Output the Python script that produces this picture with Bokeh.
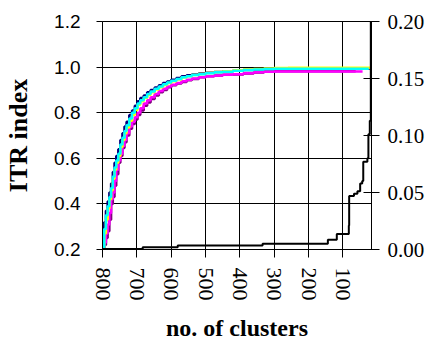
from bokeh.plotting import figure
from bokeh.models import Range1d, LinearAxis, FixedTicker, PrintfTickFormatter
from bokeh.embed import file_html
from bokeh.resources import INLINE

# ---- data ----
clusters = [800, 795, 790, 785, 780, 775, 770, 765, 760, 754, 748, 742, 736, 730,
            722, 714, 706, 698, 690, 680, 670, 660, 648, 636, 624, 612, 600, 585,
            570, 555, 540, 520, 500, 475, 450, 420, 390, 360, 330, 300, 260, 220,
            180, 140, 100, 63, 43, 25, 17]

itr_navy = [0.20, 0.32, 0.37, 0.41, 0.45, 0.49, 0.54, 0.58, 0.61, 0.64, 0.68, 0.71,
            0.74, 0.76, 0.79, 0.81, 0.83, 0.85, 0.865, 0.875, 0.89, 0.90, 0.91, 0.92,
            0.93, 0.937, 0.945, 0.952, 0.96, 0.964, 0.968, 0.972, 0.975, 0.979, 0.982,
            0.985, 0.987, 0.989, 0.991, 0.993, 0.994, 0.994, 0.994, 0.994, 0.994,
            0.994, 0.994, 0.994, 0.994]
itr_cyan = [0.20, 0.29, 0.35, 0.39, 0.43, 0.47, 0.52, 0.56, 0.59, 0.62, 0.66, 0.69,
            0.72, 0.745, 0.775, 0.80, 0.82, 0.84, 0.855, 0.868, 0.882, 0.893, 0.905,
            0.915, 0.925, 0.932, 0.94, 0.948, 0.955, 0.96, 0.965, 0.969, 0.973, 0.977,
            0.98, 0.984, 0.987, 0.99, 0.992, 0.993, 0.993, 0.993, 0.993, 0.993, 0.993,
            0.993, 0.993, 0.993]
itr_yellow = [0.20, 0.27, 0.33, 0.38, 0.42, 0.46, 0.51, 0.55, 0.58, 0.61, 0.65, 0.68,
              0.71, 0.735, 0.765, 0.79, 0.812, 0.835, 0.85, 0.865, 0.878, 0.89, 0.902,
              0.912, 0.922, 0.93, 0.938, 0.946, 0.954, 0.96, 0.965, 0.97, 0.974, 0.978,
              0.982, 0.986, 0.989, 0.992, 0.994, 0.996, 0.997, 0.997, 0.997, 0.997,
              0.997, 0.997, 0.997, 0.997, 0.997]
itr_magenta = [0.20, 0.23, 0.27, 0.31, 0.36, 0.42, 0.45, 0.50, 0.55, 0.59, 0.62, 0.655,
               0.68, 0.71, 0.74, 0.76, 0.78, 0.80, 0.82, 0.84, 0.855, 0.868, 0.882,
               0.895, 0.905, 0.915, 0.923, 0.93, 0.938, 0.944, 0.95, 0.956, 0.96, 0.963,
               0.966, 0.969, 0.973, 0.977, 0.98, 0.981, 0.981, 0.981, 0.981, 0.981,
               0.981, 0.981, 0.981]
itr_purple = [0.20, 0.22, 0.25, 0.28, 0.33, 0.40, 0.43, 0.48, 0.53, 0.58, 0.61, 0.645,
              0.67, 0.70, 0.73, 0.75, 0.77, 0.79, 0.81, 0.83, 0.845, 0.86, 0.875, 0.89,
              0.90, 0.912, 0.92, 0.928, 0.935, 0.942, 0.948, 0.955, 0.96, 0.963, 0.966,
              0.968, 0.972, 0.976, 0.98, 0.982, 0.982, 0.982, 0.982, 0.982, 0.982, 0.982]

# right-axis series (black)
clusters_b = [800, 683, 581, 334, 144, 118, 83, 82, 68, 58, 50, 44, 41, 29, 26, 22, 19, 17]
values_b = [0.0005, 0.002, 0.0035, 0.005, 0.0085, 0.0135, 0.021, 0.047, 0.049, 0.051,
            0.058, 0.060, 0.077, 0.080, 0.101, 0.113, 0.20, 0.20]

left_ticks = [0.2, 0.4, 0.6, 0.8, 1.0, 1.2]
right_ticks = [0.0, 0.05, 0.10, 0.15, 0.20]
x_ticks = [800, 700, 600, 500, 400, 300, 200, 100]

SERIF = "Times New Roman"
SANS = "Arial"

# ---- figure ----
p = figure(width=432, height=343, output_backend="svg", toolbar_location=None,
           x_range=Range1d(800, 17), y_range=Range1d(0.2, 1.2),
           min_border_left=102, min_border_right=61, min_border_top=21,
           min_border_bottom=94)
p.outline_line_color = "black"
p.background_fill_color = "white"
p.border_fill_color = "white"

p.extra_y_ranges = {"right": Range1d(0.0, 0.2)}

series = [(itr_navy, "#000080"), (itr_purple, "#800080"), (itr_magenta, "#FF00FF"),
          (itr_yellow, "#FFFF00"), (itr_cyan, "#00FFFF")]
for vals, col in series:
    p.step(clusters[:len(vals)], vals, mode="after", line_color=col, line_width=2.5)

p.step(clusters_b, values_b, mode="after", line_color="black", line_width=2,
       y_range_name="right")

# grids
p.xgrid.ticker = FixedTicker(ticks=x_ticks)
p.ygrid.ticker = FixedTicker(ticks=left_ticks)
for g in (p.xgrid[0], p.ygrid[0]):
    g.grid_line_color = "black"
    g.grid_line_width = 1
    g.grid_line_alpha = 1.0

# x axis
xa = p.xaxis[0]
xa.ticker = FixedTicker(ticks=x_ticks)
xa.axis_label = "no. of clusters"
xa.axis_label_text_font = SERIF
xa.axis_label_text_font_style = "bold"
xa.axis_label_text_font_size = "24px"
xa.axis_label_text_color = "black"
xa.axis_label_standoff = 11
xa.major_label_orientation = "vertical"
xa.major_label_text_font = SERIF
xa.major_label_text_font_size = "22px"
xa.major_label_text_color = "black"
xa.major_label_standoff = 10
xa.major_tick_in = 4
xa.major_tick_out = 8
xa.minor_tick_line_color = None
xa.axis_line_color = "black"
xa.major_tick_line_color = "black"

# left axis
ya = p.yaxis[0]
ya.ticker = FixedTicker(ticks=left_ticks)
ya.formatter = PrintfTickFormatter(format="%.1f")
ya.axis_label = "ITR index"
ya.axis_label_text_font = SERIF
ya.axis_label_text_font_style = "bold"
ya.axis_label_text_font_size = "26px"
ya.axis_label_text_color = "black"
ya.axis_label_standoff = 18
ya.major_label_text_font = SANS
ya.major_label_text_font_size = "19px"
ya.major_label_text_color = "black"
ya.major_label_standoff = 16
ya.major_tick_in = 0
ya.major_tick_out = 6
ya.minor_tick_line_color = None
ya.axis_line_color = "black"

# right axis
ra = LinearAxis(y_range_name="right", ticker=FixedTicker(ticks=right_ticks),
                formatter=PrintfTickFormatter(format="%.2f"))
ra.major_label_text_font = SERIF
ra.major_label_text_font_size = "21px"
ra.major_label_text_color = "black"
ra.major_label_standoff = 8
ra.major_tick_in = 8
ra.major_tick_out = 8
ra.minor_tick_line_color = None
ra.axis_line_color = "black"
p.add_layout(ra, "right")

open("out.html", "w").write(file_html(p, INLINE))
